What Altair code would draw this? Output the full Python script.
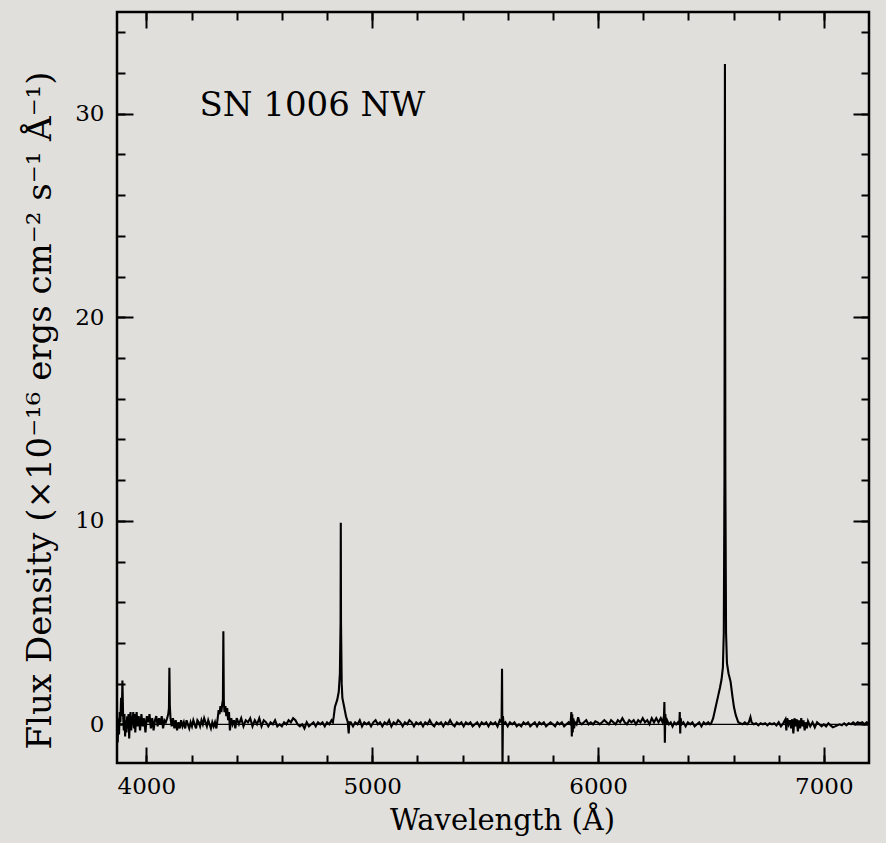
import altair as alt
import pandas as pd

# ---- spectrum (wavelength in Angstrom, flux in 1e-16 units)
WAVELENGTH = [
    3870, 3873, 3876, 3879, 3882, 3885, 3888, 3891, 3894, 3897,
    3900, 3903, 3906, 3909, 3912, 3915, 3918, 3921, 3924, 3927,
    3930, 3933, 3936, 3939, 3942, 3945, 3948, 3951, 3954, 3957,
    3960, 3966, 3972, 3978, 3984, 3990, 3996, 4002, 4008, 4014,
    4020, 4026, 4032, 4038, 4044, 4050, 4056, 4062, 4068, 4074,
    4080, 4086, 4092, 4097, 4100, 4102, 4104, 4107, 4112, 4118,
    4124, 4130, 4136, 4142, 4148, 4154, 4160, 4166, 4172, 4178,
    4184, 4190, 4196, 4202, 4208, 4214, 4220, 4226, 4232, 4238,
    4244, 4250, 4256, 4262, 4268, 4274, 4280, 4286, 4292, 4298,
    4304, 4310, 4316, 4320, 4324, 4328, 4332, 4336, 4339, 4341,
    4343, 4346, 4350, 4354, 4358, 4362, 4366, 4370, 4376, 4382,
    4388, 4394, 4400, 4410, 4420, 4430, 4440, 4450, 4460, 4470,
    4480, 4490, 4500, 4510, 4520, 4530, 4540, 4550, 4560, 4570,
    4580, 4590, 4600, 4610, 4620, 4630, 4640, 4650, 4660, 4670,
    4680, 4690, 4700, 4710, 4720, 4730, 4740, 4750, 4760, 4770,
    4780, 4790, 4800, 4810, 4820, 4826, 4830, 4835, 4845, 4852,
    4857, 4860, 4861, 4862, 4865, 4868, 4876, 4884, 4892, 4896,
    4899, 4905, 4915, 4925, 4935, 4945, 4955, 4965, 4975, 4985,
    4995, 5005, 5015, 5025, 5035, 5045, 5055, 5065, 5075, 5085,
    5095, 5105, 5115, 5125, 5135, 5145, 5155, 5165, 5175, 5185,
    5195, 5205, 5215, 5225, 5235, 5245, 5255, 5265, 5275, 5285,
    5295, 5305, 5315, 5325, 5335, 5345, 5355, 5365, 5375, 5385,
    5395, 5405, 5415, 5425, 5435, 5445, 5455, 5465, 5475, 5485,
    5495, 5505, 5515, 5525, 5535, 5545, 5555, 5565, 5573, 5575,
    5576, 5577, 5579, 5582, 5590, 5600, 5610, 5620, 5630, 5640,
    5650, 5660, 5670, 5680, 5690, 5700, 5710, 5720, 5730, 5740,
    5750, 5760, 5770, 5780, 5790, 5800, 5810, 5820, 5830, 5840,
    5850, 5860, 5870, 5878, 5882, 5884, 5886, 5888, 5891, 5894,
    5898, 5905, 5912, 5918, 5928, 5938, 5948, 5958, 5968, 5978,
    5988, 5998, 6008, 6018, 6028, 6038, 6048, 6058, 6068, 6078,
    6088, 6098, 6108, 6118, 6128, 6138, 6148, 6158, 6168, 6178,
    6188, 6198, 6208, 6218, 6228, 6238, 6248, 6258, 6268, 6278,
    6286, 6292, 6294, 6296, 6298, 6301, 6306, 6314, 6322, 6330,
    6338, 6346, 6354, 6360, 6362, 6364, 6366, 6370, 6378, 6388,
    6398, 6408, 6418, 6428, 6438, 6448, 6458, 6468, 6478, 6488,
    6496, 6501, 6510, 6521, 6530, 6540, 6547, 6553, 6557, 6560,
    6562, 6564, 6567, 6571, 6578, 6587, 6595, 6602, 6610, 6621,
    6630, 6640, 6650, 6660, 6668, 6675, 6680, 6690, 6700, 6710,
    6720, 6730, 6740, 6750, 6760, 6770, 6780, 6790, 6800, 6810,
    6820, 6830, 6834, 6838, 6844, 6850, 6855, 6860, 6865, 6870,
    6875, 6880, 6885, 6890, 6895, 6900, 6905, 6910, 6915, 6920,
    6925, 6930, 6940, 6950, 6960, 6970, 6980, 6990, 7000, 7010,
    7020, 7030, 7040, 7050, 7060, 7070, 7080, 7090, 7100, 7110,
    7120, 7130, 7140, 7150, 7160, 7170, 7180, 7190, 7200,
]
FLUX = [
    -0.2, -0.9, 0.3, -0.5, 0.6, 0.1, 1.3, 0.4, 2.15, 0.5,
    -0.3, 0.5, -0.6, 0.2, -0.4, 0.4, -0.2, 0.5, -0.7, 0.3,
    0.6, -0.3, 0.4, 0.1, 0.6, -0.2, 0.5, -0.4, 0.3, 0.6,
    -0.1, 0.4, -0.3, 0.5, -0.1, 0.3, -0.4, 0.4, 0.1, 0.5,
    -0.2, 0.3, -0.3, 0.2, 0.4, -0.1, 0.3, 0.0, 0.4, -0.2,
    0.2, 0.1, 0.3, 0.5, 0.8, 2.78, 0.9, 0.3, -0.1, 0.3,
    -0.2, 0.2, -0.3, 0.1, -0.2, 0.2, -0.1, 0.1, -0.2, 0.2,
    0.0, -0.2, 0.1, -0.1, 0.2, 0.0, -0.2, 0.2, 0.1, -0.1,
    0.2, 0.0, 0.3, 0.1, -0.1, 0.2, 0.0, -0.2, 0.1, -0.1,
    0.1, -0.2, 0.3, 0.7, 0.5, 0.9, 0.6, 1.0, 1.2, 4.57,
    1.1, 0.6, 0.9, 0.4, 0.8, 0.2, 0.6, -0.3, 0.3, 0.0,
    0.2, -0.2, 0.3, 0.0, 0.3, -0.1, 0.2, 0.1, 0.3, -0.1,
    0.2, 0.0, 0.3, -0.1, 0.2, 0.1, -0.1, 0.1, 0.0, 0.2,
    -0.1, 0.0, -0.1, 0.1, 0.0, 0.2, 0.1, 0.3, 0.2, 0.0,
    -0.1, 0.0, -0.2, 0.1, -0.1, 0.0, 0.1, -0.1, 0.1, 0.0,
    0.1, -0.1, 0.1, 0.0, 0.2, 0.1, 0.4, 0.85, 1.2, 1.6,
    2.5, 5.0, 9.9, 5.0, 2.0, 1.3, 0.85, 0.4, 0.1, -0.45,
    0.1, 0.1, -0.1, 0.1, 0.0, 0.2, -0.1, 0.1, 0.0, 0.1,
    -0.1, 0.1, 0.2, 0.0, 0.1, -0.1, 0.1, 0.0, 0.2, -0.1,
    0.1, 0.0, 0.2, 0.1, -0.1, 0.1, 0.0, 0.2, 0.1, -0.1,
    0.1, 0.0, 0.1, -0.1, 0.1, 0.0, 0.2, 0.0, -0.1, 0.1,
    0.0, 0.1, -0.1, 0.1, 0.0, 0.2, 0.0, -0.1, 0.1, 0.0,
    0.1, -0.1, 0.1, 0.0, 0.1, -0.1, 0.0, 0.1, -0.1, 0.1,
    0.0, 0.1, -0.1, 0.1, 0.0, 0.1, -0.1, 0.2, 0.1, 2.73,
    0.6, -2.2, 0.4, 0.0, 0.1, -0.1, 0.1, 0.0, 0.1, -0.1,
    0.0, -0.1, 0.1, 0.0, 0.1, -0.1, 0.0, 0.1, -0.1, 0.1,
    0.0, 0.1, -0.1, 0.0, 0.1, 0.0, -0.1, 0.1, 0.0, 0.1,
    -0.1, 0.0, 0.1, 0.0, 0.6, -0.6, 0.5, -0.4, 0.3, -0.2,
    0.1, 0.0, 0.35, 0.1, 0.0, 0.1, 0.2, 0.0, 0.1, 0.0,
    0.15, 0.1, 0.0, 0.1, 0.2, 0.1, 0.0, 0.2, 0.1, 0.0,
    0.2, 0.1, 0.3, 0.1, 0.0, 0.2, 0.1, 0.2, 0.0, 0.2,
    0.1, 0.3, 0.1, 0.2, 0.0, 0.3, 0.1, 0.3, 0.1, 0.3,
    0.1, 0.4, 1.1, -0.9, 0.5, 0.0, 0.2, 0.0, 0.1, -0.1,
    0.1, 0.0, 0.1, 0.0, 0.6, -0.45, 0.3, 0.0, 0.1, -0.1,
    0.1, 0.0, 0.1, -0.1, 0.0, 0.1, -0.1, 0.1, 0.0, 0.1,
    0.0, 0.05, 0.3, 0.85, 1.3, 1.8, 2.2, 2.8, 4.5, 12.0,
    32.45, 12.0, 4.5, 3.0, 2.5, 2.1, 1.4, 0.85, 0.45, 0.1,
    0.05, 0.0, 0.1, 0.0, 0.1, 0.35, 0.1, 0.0, 0.05, -0.05,
    0.05, 0.0, 0.05, -0.05, 0.05, 0.0, 0.05, -0.05, 0.1, -0.1,
    0.05, 0.25, -0.3, 0.3, 0.0, 0.2, -0.2, 0.25, -0.45, 0.3,
    -0.1, 0.25, -0.35, 0.2, -0.2, 0.3, -0.1, 0.2, -0.3, 0.1,
    -0.2, 0.15, -0.1, 0.1, -0.15, 0.1, 0.0, -0.1, 0.0, -0.1,
    0.05, -0.05, -0.15, -0.1, -0.05, 0.0, -0.05, 0.05, -0.05, 0.05,
    0.0, 0.1, 0.0, 0.1, 0.05, 0.1, 0.0, 0.1, 0.05,
]

X_DOMAIN = [3870, 7200]
Y_DOMAIN = [-1.9, 35]
X_MAJOR = [4000, 5000, 6000, 7000]
X_MINOR = [4000, 4200, 4400, 4600, 4800, 5000, 5200, 5400, 5600, 5800,
           6000, 6200, 6400, 6600, 6800, 7000]
Y_MAJOR = [0, 10, 20, 30]
Y_MINOR = [0, 2, 4, 6, 8, 10, 12, 14, 16, 18, 20, 22, 24, 26, 28, 30, 32, 34]
ZERO_START = [3870]
ZERO_END = [7200]
LABEL_TEXT = ["SN 1006 NW"]
LABEL_WL = [4235]
LABEL_FLUX = [29.9]

X_TITLE = "Wavelength (Å)"
Y_TITLE = "Flux Density (×10⁻¹⁶ ergs cm⁻² s⁻¹ Å⁻¹)"

FONT = "DejaVu Serif"
BG = "#e0dfdb"

spec = pd.DataFrame({"wl": WAVELENGTH, "flux": FLUX})
zero = pd.DataFrame({"x0": ZERO_START, "x1": ZERO_END, "y": [0]})
lab = pd.DataFrame({"wl": LABEL_WL, "flux": LABEL_FLUX, "t": LABEL_TEXT})

xs = alt.Scale(domain=X_DOMAIN, nice=False, zero=False)
ys = alt.Scale(domain=Y_DOMAIN, nice=False, zero=False)


def tick_axis(orient, values, size, labels=False, **kw):
    return alt.Axis(orient=orient, values=values, tickSize=size, offset=-size,
                    domain=False, grid=False, ticks=True, tickColor="black",
                    tickWidth=2, labels=labels, labelFlush=False,
                    labelOverlap=False, format="d", **kw)


ax_bottom = tick_axis("bottom", X_MAJOR, 16, labels=True,
                      labelFont=FONT, labelFontSize=23, labelColor="black",
                      labelPadding=12, title=X_TITLE, titleFont=FONT,
                      titleFontSize=29, titleFontWeight="normal",
                      titleColor="black", titleBaseline="alphabetic",
                      titleX=385, titleY=82)
ax_left = tick_axis("left", Y_MAJOR, 16, labels=True,
                    labelFont=FONT, labelFontSize=23, labelColor="black",
                    labelPadding=13, title=Y_TITLE, titleFont=FONT,
                    titleFontSize=34, titleFontWeight="normal",
                    titleColor="black", titleBaseline="middle",
                    titleX=-93, titleY=398)

line = alt.Chart(spec).mark_line(color="black", strokeWidth=2.1, clip=True).encode(
    x=alt.X("wl:Q", scale=xs, axis=ax_bottom),
    y=alt.Y("flux:Q", scale=ys, axis=ax_left),
)

zl = alt.Chart(zero).mark_rule(color="black", strokeWidth=1.2).encode(
    x=alt.X("x0:Q", scale=xs, axis=tick_axis("bottom", X_MINOR, 8, title=None)),
    x2="x1:Q",
    y=alt.Y("y:Q", scale=ys, axis=tick_axis("left", Y_MINOR, 8, title=None)),
)

txt = alt.Chart(lab).mark_text(font=FONT, fontSize=34, align="left",
                               baseline="alphabetic", color="black").encode(
    x=alt.X("wl:Q", scale=xs, axis=tick_axis("top", X_MAJOR, 16, title=None)),
    y=alt.Y("flux:Q", scale=ys, axis=tick_axis("right", Y_MAJOR, 16, title=None)),
    text="t:N",
)

ghost = alt.Chart(spec).mark_point(opacity=0).encode(
    x=alt.X("wl:Q", scale=xs, axis=tick_axis("top", X_MINOR, 8, title=None)),
    y=alt.Y("flux:Q", scale=ys, axis=tick_axis("right", Y_MINOR, 8, title=None)),
)

chart = alt.layer(line, zl, txt, ghost).resolve_axis(
    x="independent", y="independent"
).properties(
    width=752, height=751, background=BG,
    padding={"left": 117, "top": 12, "right": 17, "bottom": 80},
    autosize=alt.AutoSizeParams(type="none"),
).configure_view(stroke="black", strokeWidth=2.5)

chart.save("out.html", embed_options={"renderer": "svg", "actions": False})
